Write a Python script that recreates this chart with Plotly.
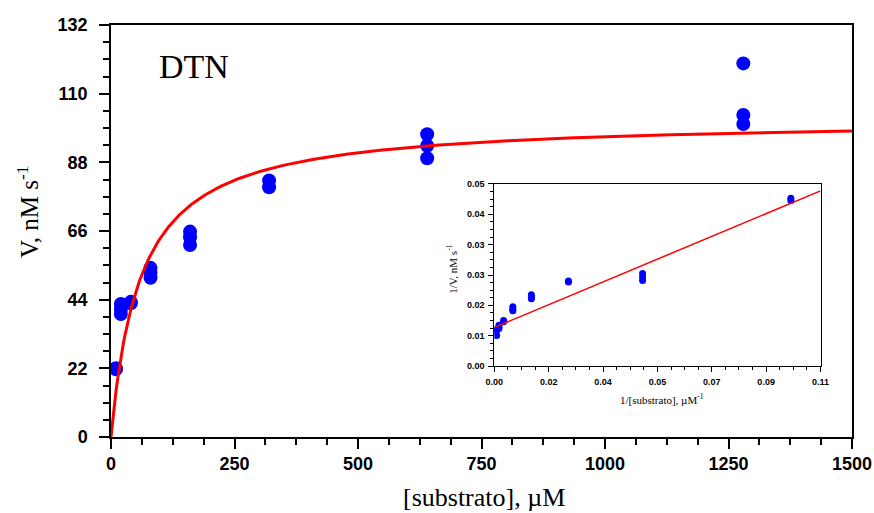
import numpy as np
import plotly.graph_objects as go

# Initial-rate measurements: substrate concentration (µM) and velocity (nM/s)
substrate_uM = [10, 10, 20, 20, 20, 40, 40, 80, 80, 80, 160, 160, 160,
                320, 320, 640, 640, 640, 1280, 1280, 1280]
velocity_nMs = [21.7, 22.0, 39.4, 41.0, 42.6, 42.8, 43.3, 51.0, 52.6, 54.2,
                61.5, 64.0, 65.8, 80.0, 82.2, 89.3, 93.3, 97.0,
                100.3, 103.2, 119.7]

# Michaelis-Menten fit parameters
vmax = 102.0
km = 60.0

# Lineweaver-Burk regression line (1/V = intercept + slope * 1/[S])
lb_intercept = 0.0106
lb_slope = 0.341

# Inset tick positions and labels
inset_x_tickvals = [0, 0.11 / 6, 0.22 / 6, 0.33 / 6, 0.44 / 6, 0.55 / 6, 0.11]
inset_x_ticktext = ["0.00", "0.02", "0.04", "0.05", "0.07", "0.09", "0.11"]
inset_y_tickvals = [0, 0.05 / 6, 0.1 / 6, 0.15 / 6, 0.2 / 6, 0.25 / 6, 0.05]
inset_y_ticktext = ["0.00", "0.01", "0.02", "0.03", "0.03", "0.04", "0.05"]

s_fit = np.linspace(0, 1500, 600)
v_fit = vmax * s_fit / (km + s_fit)

inv_s = [1.0 / s for s in substrate_uM]
inv_v = [1.0 / v for v in velocity_nMs]
lb_x = np.array([0.0, 0.11])
lb_y = lb_intercept + lb_slope * lb_x

BLUE = "#0000FF"
RED = "#FF0000"

fig = go.Figure()

fig.add_trace(go.Scatter(
    x=substrate_uM, y=velocity_nMs, mode="markers",
    marker=dict(color=BLUE, size=14, line=dict(width=0)),
    xaxis="x", yaxis="y", showlegend=False))
fig.add_trace(go.Scatter(
    x=s_fit, y=v_fit, mode="lines",
    line=dict(color=RED, width=3),
    xaxis="x", yaxis="y", showlegend=False))

fig.add_trace(go.Scatter(
    x=inv_s, y=inv_v, mode="markers",
    marker=dict(color=BLUE, size=7, line=dict(width=0)),
    xaxis="x2", yaxis="y2", showlegend=False))
fig.add_trace(go.Scatter(
    x=lb_x, y=lb_y, mode="lines",
    line=dict(color=RED, width=1.5),
    xaxis="x2", yaxis="y2", showlegend=False))

tick_font = dict(family="Liberation Sans", size=18, color="black", weight="bold")
inset_tick_font = dict(family="Liberation Sans", size=9, color="black", weight="bold")
serif = "Liberation Serif"

fig.update_layout(
    width=874, height=513, autosize=False,
    margin=dict(l=111, r=22, t=25, b=76, autoexpand=False),
    paper_bgcolor="white", plot_bgcolor="white",
    xaxis=dict(
        domain=[0, 1], range=[0, 1500], tick0=0, dtick=250, automargin=False,
        showgrid=False, zeroline=False,
        showline=True, linecolor="black", linewidth=1.5, mirror=True,
        ticks="outside", ticklen=10, tickwidth=1.5, tickcolor="black",
        tickfont=tick_font, ticklabelstandoff=0,
        minor=dict(ticks="outside", ticklen=6, tickwidth=1.5,
                   tickcolor="black", tick0=0, dtick=62.5, showgrid=False),
    ),
    yaxis=dict(
        domain=[0, 1], range=[0, 132], tick0=0, dtick=22, automargin=False,
        showgrid=False, zeroline=False,
        showline=True, linecolor="black", linewidth=1.5, mirror=True,
        ticks="outside", ticklen=10, tickwidth=1.5, tickcolor="black",
        tickfont=tick_font, ticklabelstandoff=8,
        minor=dict(ticks="outside", ticklen=6, tickwidth=1.5,
                   tickcolor="black", tick0=0, dtick=5.5, showgrid=False),
    ),
    xaxis2=dict(
        domain=[0.5173, 0.9575], anchor="y2", range=[0, 0.11], automargin=False,
        tickmode="array", tickvals=inset_x_tickvals, ticktext=inset_x_ticktext,
        showgrid=False, zeroline=False,
        showline=True, linecolor="black", linewidth=1, mirror=True,
        ticks="outside", ticklen=5, tickwidth=1, tickcolor="black",
        tickfont=inset_tick_font, ticklabelstandoff=2,
        minor=dict(ticks="outside", ticklen=3, tickwidth=1,
                   tickcolor="black", tick0=0, dtick=0.11 / 24, showgrid=False),
    ),
    yaxis2=dict(
        domain=[0.1723, 0.6141], anchor="x2", range=[0, 0.05], automargin=False,
        tickmode="array", tickvals=inset_y_tickvals, ticktext=inset_y_ticktext,
        showgrid=False, zeroline=False,
        showline=True, linecolor="black", linewidth=1, mirror=True,
        ticks="outside", ticklen=5, tickwidth=1, tickcolor="black",
        tickfont=inset_tick_font, ticklabelstandoff=2,
        minor=dict(ticks="outside", ticklen=3, tickwidth=1,
                   tickcolor="black", tick0=0, dtick=0.05 / 24, showgrid=False),
    ),
    annotations=[
        dict(text="DTN", xref="paper", yref="paper", x=0.0621, y=0.899,
             xanchor="left", yanchor="middle", showarrow=False,
             font=dict(family=serif, size=34, color="black")),
        dict(text="V, nM s<sup>-1</sup>", xref="paper", yref="paper",
             x=-0.112, y=0.546, textangle=-90, xanchor="center", yanchor="middle",
             showarrow=False, font=dict(family=serif, size=25, color="black")),
        dict(text="[substrato], µM", xref="paper", yref="paper",
             x=0.503, y=-0.146, xanchor="center", yanchor="middle",
             showarrow=False, font=dict(family=serif, size=26, color="black")),
        dict(text="1/V, nM s<sup>-1</sup>", xref="paper", yref="paper",
             x=0.460, y=0.408, textangle=-90, xanchor="center", yanchor="middle",
             showarrow=False, font=dict(family=serif, size=11, color="black")),
        dict(text="1/[substrato], µM<sup>-1</sup>", xref="paper", yref="paper",
             x=0.7436, y=0.0922, xanchor="center", yanchor="middle",
             showarrow=False, font=dict(family=serif, size=11, color="black")),
    ],
)

fig.write_html("out.html")
